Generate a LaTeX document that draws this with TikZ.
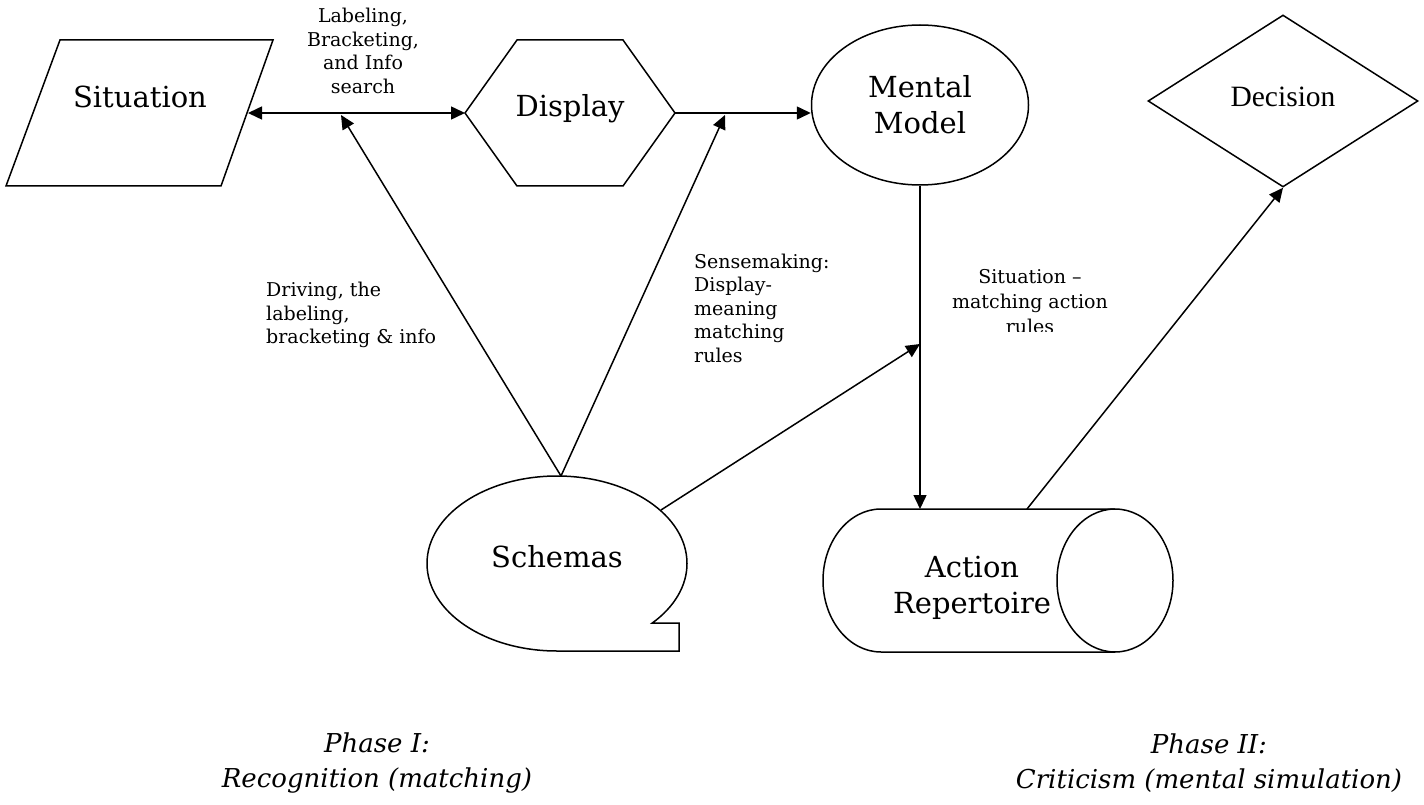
\documentclass[tikz,border=0pt]{standalone}
\usepackage{fontspec}
\setmainfont{DejaVu Serif}
\newfontfamily\timesfont{Liberation Serif}
\usetikzlibrary{arrows.meta, positioning, shapes.geometric}

\begin{document}
\begin{tikzpicture}[
    % pixel coordinates of the page: x to the right, y downwards
    x=1pt, y=-1pt,
    every node/.style={font=\fontsize{29}{36}\selectfont, align=center,
                       inner sep=0pt},
]

% ---------------------------------------------------------------- colours
\definecolor{ink}{HTML}{000000}

\tikzset{
    box/.style={ink, line width=1.5pt},
    link/.style={ink, line width=1.5pt, -{Triangle[length=14pt, width=13pt]}},
    twoway/.style={link,
        {Triangle[length=14pt, width=13pt]}-{Triangle[length=14pt, width=13pt]}},
    note/.style={font=\fontsize{19}{23.5}\selectfont, text=ink},
    phase/.style={font=\fontsize{26}{35}\selectfont\itshape, text=ink},
}

\useasboundingbox (0,0) rectangle (1424,805);

% ---------------------------------------------------------------- shapes
% situation (parallelogram)
\draw[box] (60,40) -- (273,40) -- (221,186) -- (6,186) -- cycle;
\node (sit) at (140,97) {Situation};

% display (hexagon)
\draw[box] (465,113) -- (517,40) -- (623,40) -- (675,113)
    -- (623,186) -- (517,186) -- cycle;
\node (disp) at (570,109) {Display};

% mental model
\node[draw, box, ellipse, minimum width=217pt, minimum height=160pt]
    (mm) at (920,105) {Mental\\Model};

% decision
\node[draw, box, diamond, minimum width=270pt, minimum height=172pt,
      font=\timesfont\fontsize{29.5}{36}\selectfont, text depth=8pt]
    (dec) at (1283,101) {Decision};

% schemas (tape symbol)
\draw[box] (557,651) arc[start angle=90, end angle=403,
                         x radius=130, y radius=87.5]
    -- (679,623) -- (679,651) -- cycle;
\node (sch) at (557,557) {Schemas};

% action repertoire (cylinder)
\draw[box] (1115,509) -- (881,509)
    arc[start angle=270, end angle=90, x radius=58, y radius=71.5]
    -- (1115,652);
\draw[box] (1115,580.5) ellipse [x radius=58, y radius=71.5];
\node (act) at (972,588) {Action\\Repertoire};

% ---------------------------------------------------------------- ends
\coordinate (sitE)  at (248,113);
\coordinate (dispW) at (465,113);
\coordinate (dispE) at (675,113);
\coordinate (schT)  at (561,476);
\coordinate (schR)  at (661,510);
\coordinate (hitL)  at (341,115);
\coordinate (hitR)  at (725,115);
\coordinate (hitV)  at (920,344);
\coordinate (actN)  at (920,509);
\coordinate (actT)  at (1027,509);

% ---------------------------------------------------------------- links
\draw[twoway] (sitE) -- (dispW);
\draw[link] (dispE) -- (mm.west |- dispE);
\draw[link] (mm.south) -- (actN);
\draw[link] (schT) -- (hitL);
\draw[link] (schT) -- (hitR);
\draw[link] (schR) -- (hitV);
\draw[link] (actT) -- (dec.south);

% ---------------------------------------------------------------- labels
\node[note] (lab) at (363,51) {Labeling,\\Bracketing,\\and Info\\search};
\node[note, align=left, anchor=west] (drv) at (266,315)
    {Driving, the\\labeling,\\bracketing \& info};
\node[note, align=left, anchor=west] (sns) at (694,308)
    {Sensemaking:\\Display-\\meaning\\matching\\rules};
\begin{scope}
    \clip (940,255) rectangle (1130,331);
    \node[note, font=\fontsize{19}{25}\selectfont] (sml) at (1030,302)
        {Situation --\\matching action\\rules};
\end{scope}

% ---------------------------------------------------------------- phases
\node[phase] (ph1) at (377,763) {Phase I:\\Recognition (matching)};
\node[phase] (ph2) at (1209,763) {Phase II:\\Criticism (mental simulation)};

\end{tikzpicture}
\end{document}
